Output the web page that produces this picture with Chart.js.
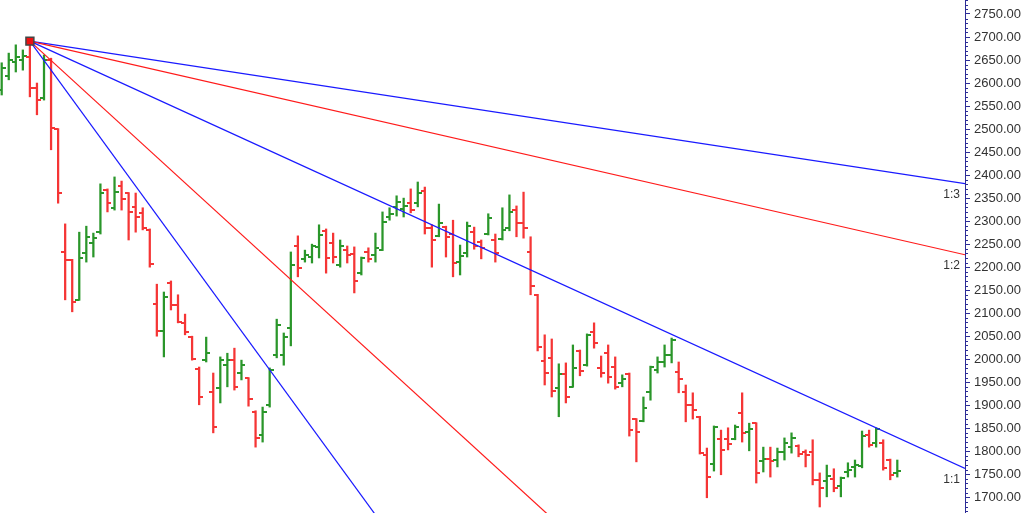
<!DOCTYPE html>
<html>
<head>
<meta charset="utf-8">
<script src="https://cdn.jsdelivr.net/npm/chart.js@4.4.1/dist/chart.umd.min.js"></script>
<style>
  html, body { margin: 0; padding: 0; background: #fff; }
  #wrap { width: 1028px; height: 513px; }
</style>
</head>
<body>
<div id="wrap"><canvas id="ohlc-chart"></canvas></div>
<script>
/* OHLC data, one entry per bar */
const opens = [2585,2615,2646,2650,2657,2589,2568,2650,2500,2233,
  2216,2129,2231,2253,2276,2368,2329,2376,2361,2331,
  2318,2281,2120,2061,2166,2118,2079,2048,1979,1998,
  1929,1937,1987,1998,1970,1959,1885,1835,1901,2009,
  2009,2068,2246,2218,2222,2244,2279,2253,2205,2237,
  2229,2187,2233,2226,2237,2309,2331,2326,2339,2339,
  2365,2285,2268,2287,2272,2211,2231,2276,2255,2272,
  2259,2261,2285,2324,2296,2233,2140,1996,2003,1937,
  1968,1940,2018,1987,2059,1981,2013,1983,1948,1968,
  1870,1866,1929,1977,1994,2009,1972,1929,1901,1875,
  1792,1772,1827,1827,1827,1883,1842,1861,1779,1783,
  1781,1798,1809,1811,1798,1798,1738,1735,1740,1725,
  1755,1766,1768,1835,1818,1818,1781,1753];
const highs = [2644,2665,2683,2672,2691,2600,2661,2654,2501,2294,
  2217,2276,2289,2274,2381,2370,2396,2387,2362,2361,
  2329,2283,2163,2146,2170,2140,2098,2050,1983,2048,
  1970,2005,2013,2024,1998,1960,1888,1896,1981,2087,
  2057,2233,2268,2237,2250,2292,2283,2274,2259,2246,
  2244,2222,2242,2274,2320,2329,2355,2350,2370,2385,
  2374,2292,2337,2289,2302,2248,2298,2287,2259,2316,
  2272,2329,2357,2333,2363,2266,2141,2053,2044,1990,
  1992,2031,2020,2055,2079,2007,2031,2005,1966,1970,
  1871,1918,1985,2005,2031,2046,1994,1944,1927,1876,
  1807,1855,1846,1851,1857,1927,1861,1862,1809,1809,
  1807,1829,1840,1814,1803,1825,1753,1770,1762,1744,
  1775,1781,1844,1846,1851,1825,1783,1781];
const lows = [2574,2607,2624,2628,2570,2531,2563,2455,2339,2129,
  2103,2128,2211,2222,2272,2320,2324,2324,2259,2276,
  2281,2200,2050,2005,2107,2079,2053,1998,1901,1994,
  1840,1905,1940,1933,1955,1898,1809,1820,1896,2003,
  1987,2029,2179,2211,2209,2220,2187,2209,2200,2209,
  2144,2183,2211,2211,2236,2302,2311,2309,2318,2331,
  2272,2200,2266,2222,2179,2183,2222,2239,2218,2270,
  2211,2259,2279,2266,2263,2140,2018,1944,1918,1875,
  1905,1939,1964,1985,2024,1961,1948,1935,1940,1833,
  1777,1864,1911,1970,1983,1992,1927,1864,1870,1794,
  1699,1757,1749,1803,1825,1820,1801,1731,1755,1744,
  1766,1781,1796,1788,1766,1727,1679,1701,1712,1701,
  1744,1744,1764,1809,1809,1759,1738,1744];
const closes = [2633,2650,2657,2659,2589,2563,2650,2502,2361,2216,
  2124,2220,2266,2263,2361,2339,2363,2348,2320,2309,
  2285,2207,2061,2135,2118,2081,2059,2000,1918,2013,
  1853,1998,1998,1940,1987,1914,1829,1885,1977,2074,
  2048,2205,2198,2226,2246,2270,2220,2222,2246,2226,
  2170,2220,2218,2242,2298,2316,2342,2333,2324,2361,
  2285,2259,2296,2266,2209,2224,2289,2246,2242,2307,
  2231,2281,2320,2296,2285,2159,2027,1970,1931,1968,
  1918,1981,1974,2053,2035,1970,1961,1940,1957,1846,
  1842,1894,1983,1994,2009,2042,1957,1901,1890,1796,
  1744,1853,1803,1816,1853,1840,1848,1753,1783,1779,
  1798,1818,1829,1794,1792,1738,1720,1746,1720,1742,
  1759,1770,1833,1814,1848,1764,1749,1757];

/* Gann fan from the top bar */
const pivotIndex = 4;
const pivotPrice = highs[pivotIndex];
const gannUnit = 7;            // price per bar on the 1:1 line
const fanRatios = [3, 2, 1, 1/2, 1/3];
const fanLabels = ['3:1', '2:1', '1:1', '1:2', '1:3'];
const fanColors = ['#1a1aff', '#ff1a1a', '#1a1aff', '#ff1a1a', '#1a1aff'];

const X_MIN = -0.24, X_MAX = 136.6;
const Y_MIN = 1665.9, Y_MAX = 2780.4;

const GREEN = '#2a962a';
const RED = '#f53535';
const AXIS = '#2c2c96';

const idx = opens.map((_, i) => i);
const isUp = i => closes[i] >= opens[i];

function tickImage(color, side) {
  const c = document.createElement('canvas');
  c.width = 8; c.height = 2;
  const g = c.getContext('2d');
  g.fillStyle = color;
  if (side === 'left') g.fillRect(0, 0, 4, 2);
  else g.fillRect(4, 0, 4, 2);
  return c;
}
const openUp = tickImage(GREEN, 'left'), openDown = tickImage(RED, 'left');
const closeUp = tickImage(GREEN, 'right'), closeDown = tickImage(RED, 'right');

const fanSets = fanRatios.map((r, k) => ({
  type: 'scatter',
  label: fanLabels[k],
  data: [
    { x: pivotIndex, y: pivotPrice },
    { x: X_MAX, y: pivotPrice - r * gannUnit * (X_MAX - pivotIndex) }
  ],
  showLine: true,
  borderColor: fanColors[k],
  borderWidth: 1.2,
  pointRadius: 0,
  order: 1
}));

// no extra padding around the plot
function noPad(s) {
  s.paddingTop = 0; s.paddingBottom = 0;
  s.paddingLeft = 0; s.paddingRight = 0;
}

/* fan labels and minor ticks */
const extrasPlugin = {
  id: 'extras',
  afterDraw(chart) {
    const ctx = chart.ctx, area = chart.chartArea, y = chart.scales.y;
    ctx.save();
    ctx.strokeStyle = AXIS;
    ctx.lineWidth = 1;
    ctx.beginPath();
    for (let v = 1670; v <= 2780; v += 10) {
      if (v % 50 === 0) continue;
      const py = Math.round(y.getPixelForValue(v)) + 0.5;
      ctx.moveTo(area.right, py);
      ctx.lineTo(area.right + 3, py);
    }
    ctx.stroke();
    ctx.fillStyle = '#333';
    ctx.font = '12px "Liberation Sans", Arial, sans-serif';
    ctx.textAlign = 'right';
    ctx.textBaseline = 'middle';
    fanSets.forEach(ds => {
      const end = ds.data[1].y;
      if (end < Y_MIN || end > Y_MAX) return;
      ctx.fillText(ds.label, area.right - 5, y.getPixelForValue(end) + 11);
    });
    ctx.restore();
  }
};

new Chart(document.getElementById('ohlc-chart'), {
  type: 'bar',
  data: {
    datasets: [
      {
        type: 'scatter',
        data: [{ x: pivotIndex, y: pivotPrice }],
        pointStyle: 'rect',
        pointRadius: 5.6,
        backgroundColor: '#ee1111',
        borderColor: '#454545',
        borderWidth: 1.5,
        order: 0
      },
      ...fanSets,
      {
        type: 'scatter',
        data: idx.map(i => ({ x: i, y: opens[i] })),
        pointStyle: c => isUp(c.dataIndex) ? openUp : openDown,
        pointRadius: 4,
        order: 2
      },
      {
        type: 'scatter',
        data: idx.map(i => ({ x: i, y: closes[i] })),
        pointStyle: c => isUp(c.dataIndex) ? closeUp : closeDown,
        pointRadius: 4,
        order: 2
      },
      {
        type: 'bar',
        data: idx.map(i => ({ x: i, y: [lows[i], highs[i]] })),
        backgroundColor: c => isUp(c.dataIndex) ? GREEN : RED,
        barThickness: 1.6,
        grouped: false,
        order: 3
      }
    ]
  },
  options: {
    responsive: true,
    maintainAspectRatio: false,
    animation: false,
    layout: { padding: 0, autoPadding: false },
    plugins: {
      legend: { display: false },
      tooltip: { enabled: false }
    },
    scales: {
      x: {
        type: 'linear',
        min: X_MIN,
        max: X_MAX,
        offset: false,
        display: false,
        afterFit: noPad
      },
      y: {
        position: 'right',
        min: Y_MIN,
        max: Y_MAX,
        afterFit: s => { s.width = 63; noPad(s); },
        border: { color: AXIS, width: 1 },
        grid: { drawOnChartArea: false, tickLength: 5, tickColor: AXIS },
        ticks: {
          stepSize: 50,
          includeBounds: false,
          padding: 4,
          color: '#333',
          font: { family: '"Liberation Sans", Arial, sans-serif', size: 13 },
          callback: v => v.toFixed(2)
        }
      }
    }
  },
  plugins: [extrasPlugin]
});
</script>
</body>
</html>
